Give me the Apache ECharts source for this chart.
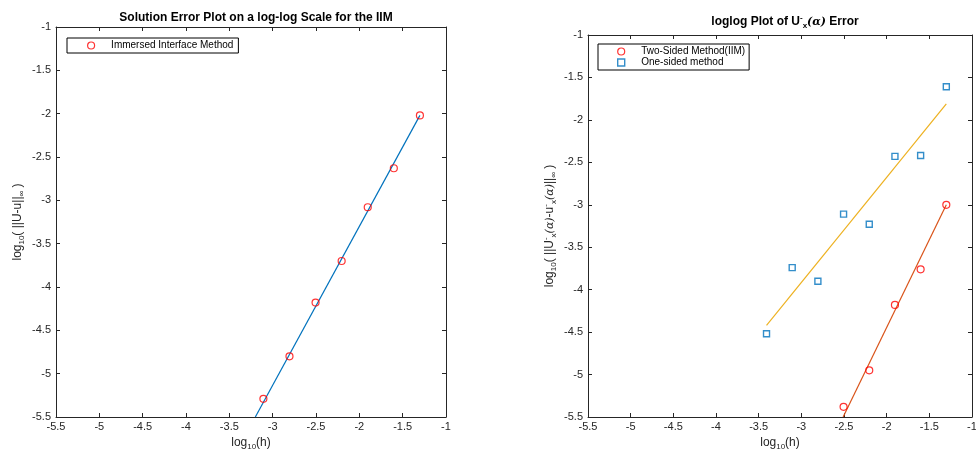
<!DOCTYPE html>
<html>
<head>
<meta charset="utf-8">
<script src="https://cdn.jsdelivr.net/npm/echarts@6/dist/echarts.min.js"></script>
<style>html,body{margin:0;padding:0;background:#fff;}</style>
</head>
<body>
<div id="charts" style="width:976px;height:450px"></div>
<script>
// log10(h), h=1/20 ... 1/2560
var hLog=[-1.301,-1.602,-1.903,-2.204,-2.505,-2.806,-3.107,-3.408];
// left plot: IIM solution error
var iimErr=[-2.02,-2.63,-3.08,-3.70,-4.18,-4.80,-5.29];
var iimFitX=[-1.301,-3.2];
var iimFitY=[-2.02,-5.5];
// right plot: derivative error
var twoSided=[-3.00,-3.76,-4.18,-4.95,-5.38];
var oneSided=[-1.61,-2.42,-2.43,-3.23,-3.11,-3.90,-3.74,-4.52];
var oneFitX=[-1.301,-3.408];
var oneFitY=[-1.81,-4.42];
var twoFitX=[-1.301,-2.51];
var twoFitY=[-3.00,-5.5];

var INK='#262626';
var FONT='"Liberation Sans", Arial, sans-serif';
var SQUARE='path://M0,0H10V10H0Z';

function pairs(xs,ys){
    var out=[];
    for(var i=0;i<ys.length;i++) out.push([xs[i],ys[i]]);
    return out;
}
var rich={
    n:{fontSize:12,fontFamily:FONT,color:INK,lineHeight:16,verticalAlign:'middle'},
    sub:{fontSize:8,fontFamily:FONT,color:INK,lineHeight:16,verticalAlign:'bottom'},
    sup:{fontSize:8,fontFamily:FONT,color:INK,lineHeight:16,verticalAlign:'top'},
    a:{fontSize:11,fontFamily:'"DejaVu Serif", serif',fontStyle:'italic',color:INK,lineHeight:16,verticalAlign:'middle'},
    tb:{fontSize:12,fontWeight:'bold',fontFamily:FONT,color:'#000',lineHeight:16,verticalAlign:'middle'},
    tsub:{fontSize:8,fontWeight:'bold',fontFamily:FONT,color:'#000',lineHeight:16,verticalAlign:'bottom'},
    tsup:{fontSize:8,fontWeight:'bold',fontFamily:FONT,color:'#000',lineHeight:16,verticalAlign:'top'},
    ta:{fontSize:11,fontFamily:'"DejaVu Serif", serif',fontStyle:'italic',color:'#000',lineHeight:16,verticalAlign:'middle'}
};
var xName='{n|log}{sub|10}{n|(h)}';

function xAxes(grid,name){
    return [{
        gridIndex:grid,type:'value',min:-5.5,max:-1,interval:0.5,
        name:name,nameLocation:'middle',nameGap:15,nameTextStyle:{rich:rich},
        axisLine:{onZero:false,lineStyle:{color:INK,width:1}},
        axisTick:{inside:true,length:4,lineStyle:{color:INK}},
        axisLabel:{margin:4,color:INK,fontSize:11,fontFamily:FONT},
        splitLine:{show:false}
    },{
        gridIndex:grid,type:'value',position:'top',min:-5.5,max:-1,interval:0.5,
        axisLine:{onZero:false,lineStyle:{color:INK,width:1}},
        axisTick:{inside:true,length:4,lineStyle:{color:INK}},
        axisLabel:{show:false},splitLine:{show:false}
    }];
}
function yAxes(grid,name,gap){
    return [{
        gridIndex:grid,type:'value',min:-5.5,max:-1,interval:0.5,
        name:name,nameLocation:'middle',nameGap:gap,nameTextStyle:{rich:rich},
        axisLine:{onZero:false,lineStyle:{color:INK,width:1}},
        axisTick:{inside:true,length:4,lineStyle:{color:INK}},
        axisLabel:{margin:5,color:INK,fontSize:11,fontFamily:FONT},
        splitLine:{show:false}
    },{
        gridIndex:grid,type:'value',position:'right',min:-5.5,max:-1,interval:0.5,
        axisLine:{onZero:false,lineStyle:{color:INK,width:1}},
        axisTick:{inside:true,length:4,lineStyle:{color:INK}},
        axisLabel:{show:false},splitLine:{show:false}
    }];
}
function legendBox(left,top,padLeft,padRight,items){
    return {
        left:left,top:top,orient:'vertical',
        borderColor:'#000',borderWidth:1,borderRadius:0,
        padding:[2,padRight,2,padLeft],itemGap:0,itemWidth:30,itemHeight:7,
        symbolKeepAspect:true,
        textStyle:{fontSize:10,fontFamily:FONT,color:'#000',lineHeight:11},
        data:items
    };
}

var charts=echarts.init(document.getElementById('charts'));
charts.setOption({
    animation:false,
    title:[
        {text:'{tb|Solution Error Plot on a log-log Scale for the IIM}',left:251,top:5,textAlign:'center',
            textStyle:{rich:rich}},
        {text:'{tb|loglog Plot of U}{tsup|-}{tsub|x}{ta|(α)}{tb| Error}',left:780,top:9,textAlign:'center',
            textStyle:{rich:rich}}
    ],
    grid:[
        {left:56,top:27,width:390,height:390,outerBoundsMode:'none',containLabel:false},
        {left:588,top:35,width:384,height:382,outerBoundsMode:'none',containLabel:false}
    ],
    legend:[
        legendBox(67,38,20,5,[{name:'Immersed Interface Method',icon:'circle',
            itemStyle:{color:'rgba(0,0,0,0)',borderColor:'#ff0000',borderWidth:1.2}}]),
        legendBox(598,44,19,4,[
            {name:'Two-Sided Method(IIM)',icon:'circle',
                itemStyle:{color:'rgba(0,0,0,0)',borderColor:'#ff0000',borderWidth:1.2}},
            {name:'One-sided method',icon:SQUARE,
                itemStyle:{color:'rgba(0,0,0,0)',borderColor:'#0072BD',borderWidth:1.4}}
        ])
    ],
    xAxis:xAxes(0,xName).concat(xAxes(1,xName)),
    yAxis:yAxes(0,'{n|log}{sub|10}{n|( ||U-u||}{sub|∞}{n| )}',30)
        .concat(yAxes(1,'{n|log}{sub|10}{n|( ||U}{sup|-}{sub|x}{a|(α)}{n|-u}{sup|-}{sub|x}{a|(α)}{n|||}{sub|∞}{n| )}',30)),
    series:[
        {type:'line',xAxisIndex:0,yAxisIndex:0,data:pairs(iimFitX,iimFitY),symbol:'none',
            lineStyle:{color:'#0072BD',width:1.2},z:2},
        {name:'Immersed Interface Method',type:'scatter',xAxisIndex:0,yAxisIndex:0,data:pairs(hLog,iimErr),
            symbol:'circle',symbolSize:7,itemStyle:{color:'rgba(0,0,0,0)',borderColor:'#ff0000',borderWidth:1.2},z:3},
        {type:'line',xAxisIndex:2,yAxisIndex:2,data:pairs(oneFitX,oneFitY),symbol:'none',
            lineStyle:{color:'#EDB120',width:1.2},z:2},
        {type:'line',xAxisIndex:2,yAxisIndex:2,data:pairs(twoFitX,twoFitY),symbol:'none',
            lineStyle:{color:'#D95319',width:1.2},z:2},
        {name:'Two-Sided Method(IIM)',type:'scatter',xAxisIndex:2,yAxisIndex:2,data:pairs(hLog,twoSided),
            symbol:'circle',symbolSize:7,itemStyle:{color:'rgba(0,0,0,0)',borderColor:'#ff0000',borderWidth:1.2},z:3},
        {name:'One-sided method',type:'scatter',xAxisIndex:2,yAxisIndex:2,data:pairs(hLog,oneSided),
            symbol:'rect',symbolSize:6,itemStyle:{color:'rgba(0,0,0,0)',borderColor:'#0072BD',borderWidth:1.4},z:3}
    ]
});
</script>
</body>
</html>
